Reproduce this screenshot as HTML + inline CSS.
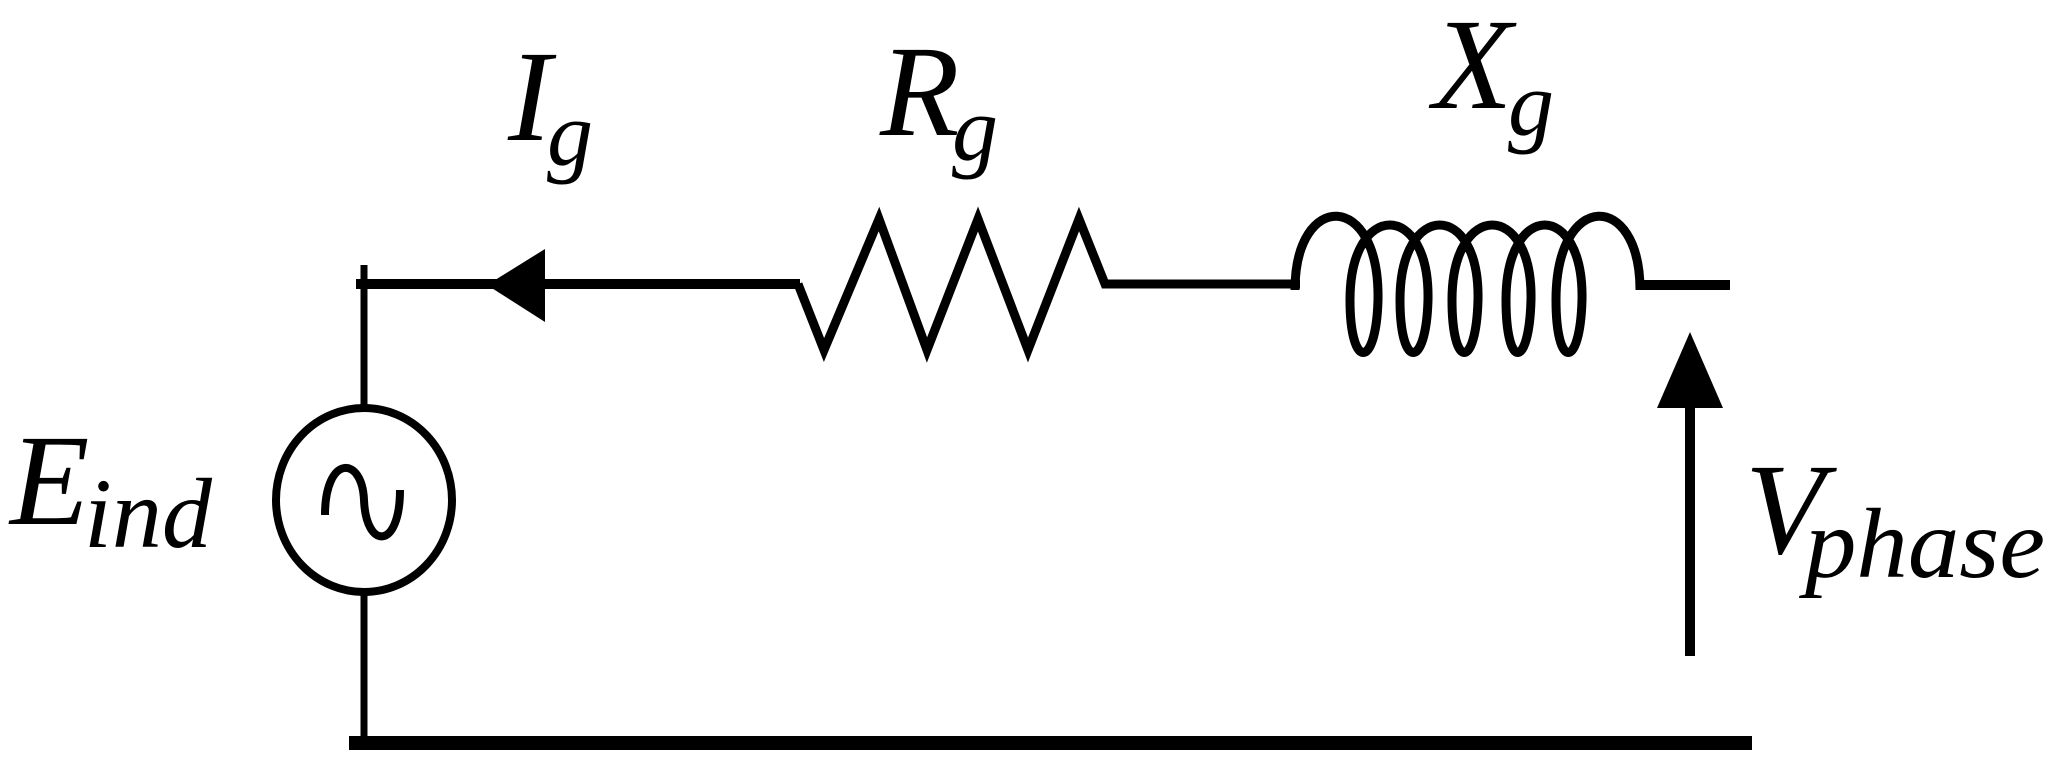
<!DOCTYPE html>
<html><head><meta charset="utf-8"><style>html,body{margin:0;padding:0;background:#fff;}svg{display:block}</style></head>
<body>
<svg width="2064" height="762" viewBox="0 0 2064 762" xmlns="http://www.w3.org/2000/svg">
<rect width="2064" height="762" fill="#fff"/>
<g stroke="#000" fill="none" stroke-linejoin="miter">
  <!-- top wire left part -->
  <line x1="356" y1="284" x2="800" y2="284" stroke-width="10"/>
  <!-- left vertical tick and line -->
  <line x1="364" y1="265" x2="364" y2="408" stroke-width="7"/>
  <!-- source circle -->
  <ellipse cx="364" cy="500" rx="88" ry="92" stroke-width="8"/>
  <path d="M325,515 C325,455 362,455 364,500 C366,550 400,550 400,490" stroke-width="8"/>
  <line x1="364" y1="592" x2="364" y2="743" stroke-width="7"/>
  <!-- resistor -->
  <polyline points="798,284 824,350 879,219 927,350 978,219 1028,350 1079,219 1105,284 1300,284" stroke-width="9"/>
  <!-- inductor -->
  <path d="M1295,290 C1295,190 1380,190 1378,300 C1376,370 1350,370 1350,300 C1350,200 1430,200 1428,300 C1426,370 1400,370 1400,300 C1400,200 1480,200 1478,300 C1476,370 1452,370 1452,300 C1452,200 1533,200 1531,300 C1529,370 1506,370 1506,300 C1506,200 1584,200 1582,300 C1580,370 1556,370 1556,300 C1556,190 1640,190 1640,290" stroke-width="9"/>
  <line x1="1636" y1="285" x2="1730" y2="285" stroke-width="10"/>
  <!-- up arrow shaft -->
  <line x1="1690" y1="400" x2="1690" y2="656" stroke-width="10"/>
  <!-- bottom wire -->
  <line x1="349" y1="743" x2="1752" y2="743" stroke-width="14"/>
</g>
<!-- arrowheads -->
<polygon points="487,285 545,249 545,322" fill="#000"/>
<polygon points="1690,332 1657,408 1723,408" fill="#000"/>
<!-- labels -->
<g font-family="Liberation Serif, serif" font-style="italic" fill="#000">
  <text x="508" y="140" font-size="130">I</text>
  <text x="547" y="165" font-size="92">g</text>
  <text x="880" y="135" font-size="130">R</text>
  <text x="952" y="160" font-size="92">g</text>
  <text x="1433" y="108" font-size="130">X</text>
  <text x="1508" y="135" font-size="92">g</text>
  <text x="10" y="524" font-size="130">E</text>
  <text x="84" y="547" font-size="100" textLength="128" lengthAdjust="spacingAndGlyphs">ind</text>
  <text x="1745" y="553" font-size="130">V</text>
  <text x="1805" y="577" font-size="100" textLength="240" lengthAdjust="spacingAndGlyphs">phase</text>
</g>
</svg>
</body></html>
